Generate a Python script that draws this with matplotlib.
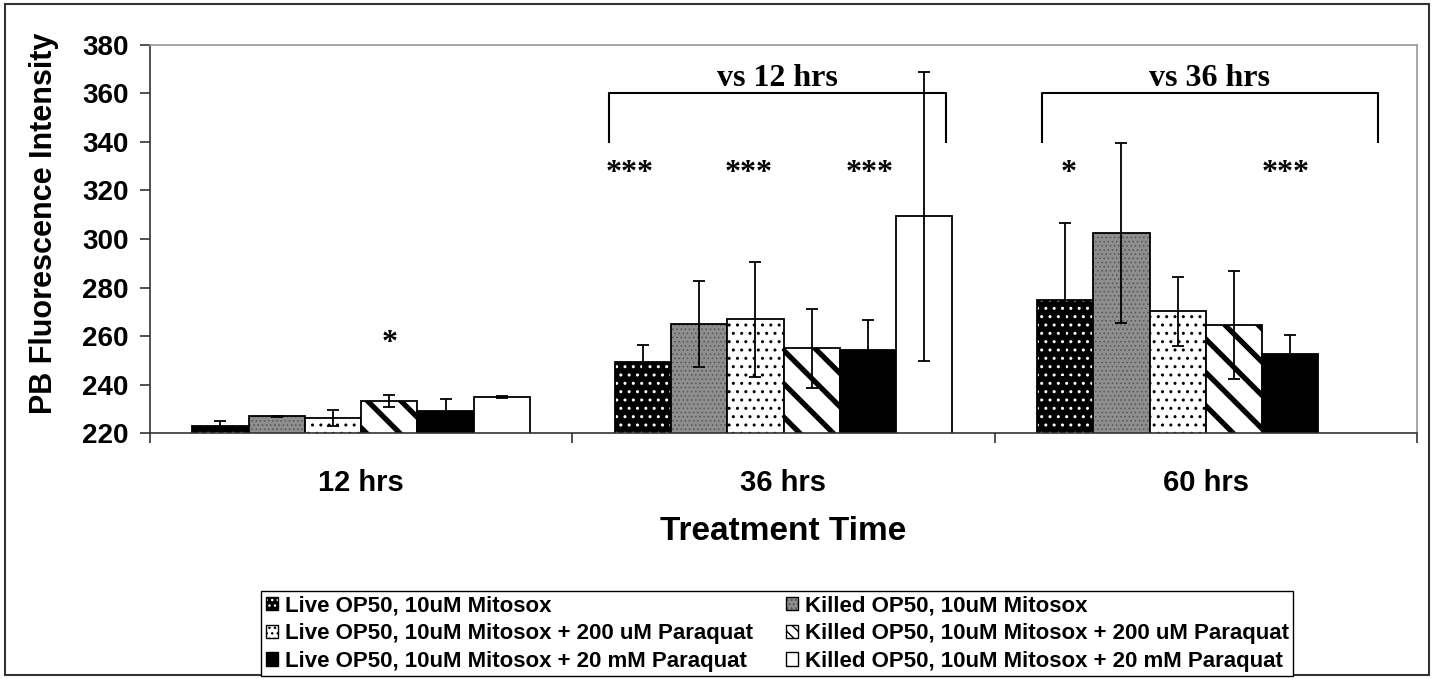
import numpy as np
import matplotlib
matplotlib.use("Agg")
import matplotlib.pyplot as plt
from matplotlib.patches import Patch, Rectangle

plt.rcParams['font.family'] = ['Liberation Sans', 'DejaVu Sans']
plt.rcParams['font.weight'] = 'bold'

# ---------------- data ----------------
times = ["12 hrs", "36 hrs", "60 hrs"]
labels = ["Live OP50, 10uM Mitosox",
          "Killed OP50, 10uM Mitosox",
          "Live OP50, 10uM Mitosox + 200 uM Paraquat",
          "Killed OP50, 10uM Mitosox + 200 uM Paraquat",
          "Live OP50, 10uM Mitosox + 20 mM Paraquat",
          "Killed OP50, 10uM Mitosox + 20 mM Paraquat"]

live_10 = [223.0, 249.2, 274.9]
live_10_err = [2.2, 7.3, 31.7]
killed_10 = [227.0, 265.0, 302.6]
killed_10_err = [0.3, 17.7, 37.0]
live_200 = [226.4, 266.9, 270.2]
live_200_err = [3.2, 23.7, 14.3]
killed_200 = [233.3, 255.0, 264.5]
killed_200_err = [2.6, 16.3, 22.2]
live_20m = [229.3, 254.4, 252.6]
live_20m_err = [4.8, 12.4, 8.0]
killed_20m = [234.9, 309.3, np.nan]
killed_20m_err = [0.3, 59.5, np.nan]

values = [live_10, killed_10, live_200, killed_200, live_20m, killed_20m]
errors = [live_10_err, killed_10_err, live_200_err, killed_200_err, live_20m_err, killed_20m_err]

# significance marks (x in category units, y in data units)
stars = [(0.067, 257, "*"),
         (0.635, 327, "***"), (0.918, 327, "***"), (1.203, 327, "***"),
         (1.676, 327, "*"), (2.188, 327, "***")]
brackets = [(0.587, 1.385, "vs 12 hrs"), (1.611, 2.407, "vs 36 hrs")]

# face, hatch, hatch colour, hatch linewidth (bars), legend hatch, legend hatch lw
styles = [("black", "..", "white", 1.0, "...", 0.8),
          ("#8e8e8e", "....", "#555555", 0.6, "....", 0.5),
          ("white", "..", "black", 1.0, "...", 0.8),
          ("white", "\\", "black", 3.8, "\\\\\\", 1.6),
          ("black", None, "black", 1.0, None, 1.0),
          ("white", None, "black", 1.0, None, 1.0)]

fig = plt.figure(figsize=(14.35, 6.79), dpi=100)
ax = fig.add_axes([150/1435, 1-433.3/679, (1417-150)/1435, (433.3-44.7)/679])

x = np.arange(len(times))
n = len(values)
w = 0.8 / n
handles = []
for i in range(n):
    face, hatch, hcol, hlw, lhatch, llw = styles[i]
    off = -0.4 + (i + 0.5) * w
    vals = np.array(values[i])
    with plt.rc_context({'hatch.linewidth': hlw}):
        bars = ax.bar(x + off, vals, w, color=face, edgecolor=hcol, hatch=hatch, linewidth=0)
        for b in bars:
            if hasattr(b, "set_hatch_linewidth"):
                b.set_hatch_linewidth(hlw)
        ax.bar(x + off, vals, w, fill=False, edgecolor="black", linewidth=1.3)
    with plt.rc_context({'hatch.linewidth': llw}):
        ph = Patch(facecolor=face, edgecolor=hcol, hatch=lhatch, linewidth=0)
        if hasattr(ph, "set_hatch_linewidth"):
            ph.set_hatch_linewidth(llw)
        po = Patch(fill=False, edgecolor="black", linewidth=1.0)
    ax.errorbar(x + off, vals, yerr=errors[i], fmt="none", ecolor="black",
                elinewidth=1.3, capsize=4, capthick=1.3)
    handles.append((ph, po))

ax.set_xlim(-0.5, 2.5)
ax.set_ylim(220, 380)
ax.set_yticks(np.arange(220, 381, 20))
ax.set_xticks(x)
ax.set_xticklabels(times)
ax.set_xticks([-0.5, 0.5, 1.5, 2.5], minor=True)
ax.tick_params(axis="x", which="major", length=0, pad=26, labelsize=21)
ax.tick_params(axis="x", which="minor", length=7.5, width=1.2, direction="out", color="#333333")
ax.tick_params(axis="y", length=7.5, width=1.2, direction="out", pad=8, labelsize=20, color="#333333")
for s in ["top", "right"]:
    ax.spines[s].set_color("#999999")
    ax.spines[s].set_linewidth(1.2)
for s in ["left", "bottom"]:
    ax.spines[s].set_color("#333333")
    ax.spines[s].set_linewidth(1.2)

for sx, sy, st in stars:
    ax.text(sx, sy, st, ha="center", va="center", fontsize=23,
            family="Liberation Serif", fontweight="bold")
for x0, x1, txt in brackets:
    ax.plot([x0, x0, x1, x1], [340, 360, 360, 340], color="black", lw=1.5, clip_on=False)
    ax.text((x0 + x1) / 2, 363, txt, ha="center", va="baseline", fontsize=23,
            family="Liberation Serif", fontweight="bold")

fig.text(44/1435, 1-223/679, "PB Fluorescence Intensity", rotation=90,
         ha="center", va="center", fontsize=22)
fig.text(783/1435, 1-532/679, "Treatment Time", ha="center", va="center", fontsize=24)

order = [0, 2, 4, 1, 3, 5]
leg = fig.legend([handles[k] for k in order], [labels[k] for k in order], ncol=2,
                 loc="upper center", bbox_to_anchor=(0.5418, 1-591/679),
                 borderaxespad=0, fancybox=False, edgecolor="black", fontsize=16,
                 handlelength=0.55, handleheight=0.55, handletextpad=0.3,
                 columnspacing=1.5, labelspacing=0.3, borderpad=0.2, framealpha=1)
leg.get_frame().set_linewidth(1.0)

fig.patches.append(Rectangle((5/1435, 4/679), (1429-5)/1435, (675-4)/679,
                             transform=fig.transFigure, fill=False, ec="#333333", lw=1.5))

fig.savefig("out.png", dpi=100)
